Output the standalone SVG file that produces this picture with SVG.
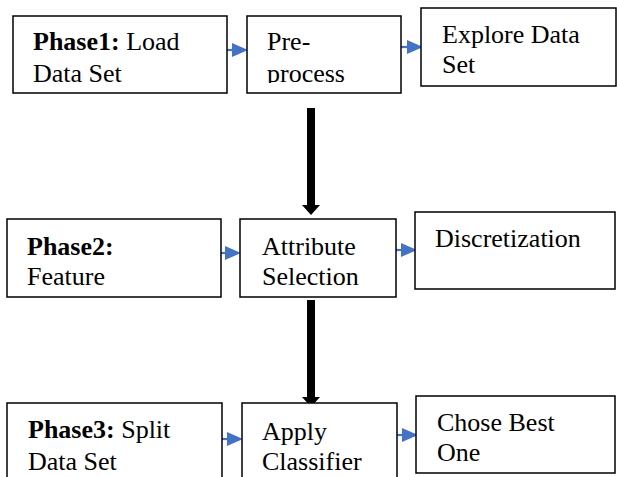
<svg xmlns="http://www.w3.org/2000/svg" width="617" height="477" viewBox="0 0 617 477">
<style>
.box{fill:#fff;stroke:#000;stroke-width:1.5}
text{font-family:"Liberation Serif","Times New Roman",serif;font-size:26px;fill:#000}
.b{font-weight:bold}
.blue{stroke:#4472C4;stroke-width:2.2;fill:none}
.bluehead{fill:#4472C4}
</style>
<defs>
<clipPath id="c2"><rect x="247" y="16" width="154" height="67"/></clipPath>
</defs>
<g id="connectors">
<line class="blue" x1="222" y1="50" x2="233" y2="50"/><polygon class="bluehead" points="232,43 248,50 232,57"/>
<line class="blue" x1="398" y1="47" x2="408" y2="47"/><polygon class="bluehead" points="407,40 423,47 407,54"/>
<line class="blue" x1="217" y1="253" x2="226" y2="253"/><polygon class="bluehead" points="225,246 241,253 225,260"/>
<line class="blue" x1="392" y1="250" x2="402" y2="250"/><polygon class="bluehead" points="401,243 417,250 401,257"/>
<line class="blue" x1="218" y1="439" x2="228" y2="439"/><polygon class="bluehead" points="227,432 243,439 227,446"/>
<line class="blue" x1="393" y1="435" x2="403" y2="435"/><polygon class="bluehead" points="402,428 418,435 402,442"/>
<polygon points="307,108 315,108 315,205 320,205 311,215 302,205 307,205" fill="#000"/>
<polygon points="307,300 315,300 315,397 320,397 311,407 302,397 307,397" fill="#000"/>
</g>
<g id="phase1">
<rect class="box" x="13" y="16" width="214" height="77"/>
<text x="33" y="50"><tspan class="b">Phase1:</tspan> Load</text>
<text x="33" y="82">Data Set</text>
</g>
<g id="preprocess">
<rect class="box" x="247" y="16" width="154" height="77"/>
<g clip-path="url(#c2)">
<text x="267" y="50">Pre-</text>
<text x="267" y="82">process</text>
</g>
</g>
<g id="explore">
<rect class="box" x="421" y="8" width="195" height="78"/>
<text x="442" y="43">Explore Data</text>
<text x="442" y="73">Set</text>
</g>
<g id="phase2">
<rect class="box" x="7" y="219" width="214" height="78"/>
<text x="27" y="255" class="b">Phase2:</text>
<text x="27" y="285">Feature</text>
</g>
<g id="attribute">
<rect class="box" x="240" y="219" width="156" height="78"/>
<text x="262" y="255">Attribute</text>
<text x="262" y="285">Selection</text>
</g>
<g id="discretization">
<rect class="box" x="415" y="212" width="200" height="77"/>
<text x="435" y="247">Discretization</text>
</g>
<g id="phase3">
<rect class="box" x="7" y="403" width="215" height="90"/>
<text x="28" y="438"><tspan class="b">Phase3:</tspan> Split</text>
<text x="28" y="470">Data Set</text>
</g>
<g id="classifier">
<rect class="box" x="242" y="403" width="155" height="90"/>
<text x="262" y="440">Apply</text>
<text x="262" y="470">Classifier</text>
</g>
<g id="best">
<rect class="box" x="416" y="396" width="199" height="77"/>
<text x="437" y="431">Chose Best</text>
<text x="437" y="461">One</text>
</g>
</svg>
